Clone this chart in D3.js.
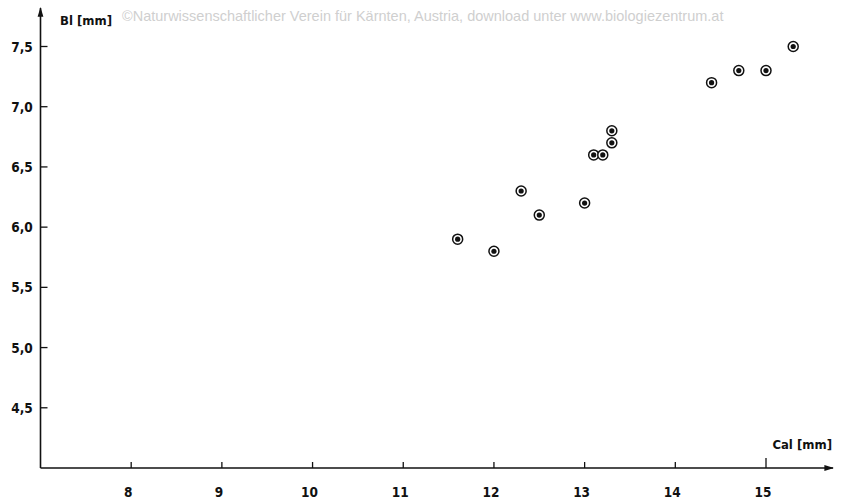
<!DOCTYPE html>
<html>
<head>
<meta charset="utf-8">
<script src="https://cdn.jsdelivr.net/npm/d3@7"></script>
<style>
  body { margin: 0; background: #fff; }
  svg { display: block; }
  .lbl { font-family: 'DejaVu Sans Condensed', 'DejaVu Sans', sans-serif; font-weight: bold; fill: #111; }
</style>
</head>
<body>
<svg id="chart" width="841" height="501"></svg>
<script>
// measured data: calyx length vs. Bl length (mm)
const cal = [11.6, 12.0, 12.3, 12.5, 13.0, 13.1, 13.2, 13.3, 13.3, 14.4, 14.7, 15.0, 15.3]
const bl = [5.9, 5.8, 6.3, 6.1, 6.2, 6.6, 6.6, 6.8, 6.7, 7.2, 7.3, 7.3, 7.5]
const xTicks = [8, 9, 10, 11, 12, 13, 14, 15]
const yTicks = [4.5, 5.0, 5.5, 6.0, 6.5, 7.0, 7.5]

const svg = d3.select('#chart')
const x = d3.scaleLinear().domain([7, 15]).range([40.5, 766])
const y = d3.scaleLinear().domain([4, 7.5]).range([468, 46.5])
const fmt = (v) => d3.format('.1f')(v).replace('.', ',')

// watermark
svg.append('text').attr('x', 122).attr('y', 21).attr('font-family', 'Liberation Sans, Arial, sans-serif')
  .attr('font-size', 14.5).attr('fill', '#cfcfcf')
  .text('©Naturwissenschaftlicher Verein für Kärnten, Austria, download unter www.biologiezentrum.at')

// axes lines with arrows
svg.append('defs').append('marker').attr('id', 'arr').attr('viewBox', '0 0 10 10').attr('refX', 9).attr('refY', 5)
  .attr('markerWidth', 8).attr('markerHeight', 6).attr('orient', 'auto')
  .append('path').attr('d', 'M0,2 L10,5 L0,8 Z').attr('fill', '#111')

const x0 = x(7), y0 = y(4)
svg.append('line').attr('x1', x0).attr('y1', y0).attr('x2', 833).attr('y2', y0)
  .attr('stroke', '#111').attr('stroke-width', 1.6).attr('marker-end', 'url(#arr)')
svg.append('line').attr('x1', x0).attr('y1', y0).attr('x2', x0).attr('y2', 8)
  .attr('stroke', '#111').attr('stroke-width', 1.6).attr('marker-end', 'url(#arr)')

// x ticks
const gx = svg.append('g')
gx.selectAll('line').data(xTicks).join('line')
  .attr('x1', (d) => x(d)).attr('x2', (d) => x(d))
  .attr('y1', y0).attr('y2', (d) => d === 15 ? y0 - 10 : y0 - 6)
  .attr('stroke', '#111').attr('stroke-width', 1.3)
gx.selectAll('text').data(xTicks).join('text').attr('class', 'lbl')
  .attr('x', (d) => x(d) - 3).attr('y', 497).attr('text-anchor', 'middle').attr('font-size', 13.5)
  .text((d) => d)

// y ticks
const gy = svg.append('g')
gy.selectAll('line').data(yTicks).join('line')
  .attr('x1', x0).attr('x2', x0 + 7)
  .attr('y1', (d) => y(d)).attr('y2', (d) => y(d))
  .attr('stroke', '#111').attr('stroke-width', 1.3)
gy.selectAll('text').data(yTicks).join('text').attr('class', 'lbl')
  .attr('x', 22).attr('y', (d) => y(d) + 5).attr('text-anchor', 'middle').attr('font-size', 13.5)
  .text(fmt)

// axis titles
svg.append('text').attr('class', 'lbl').attr('x', 60).attr('y', 25).attr('font-size', 13).text('Bl [mm]')
svg.append('text').attr('class', 'lbl').attr('x', 832).attr('y', 449).attr('text-anchor', 'end').attr('font-size', 13).text('Cal [mm]')

// points: ring with a dot inside
const pts = svg.append('g').selectAll('g').data(cal.map((c, i) => [c, bl[i]])).join('g')
  .attr('transform', (d) => `translate(${x(d[0])},${y(d[1])})`)
pts.append('circle').attr('r', 5).attr('fill', '#fff').attr('stroke', '#111').attr('stroke-width', 1.5)
pts.append('circle').attr('r', 2.6).attr('fill', '#111')
</script>
</body>
</html>
